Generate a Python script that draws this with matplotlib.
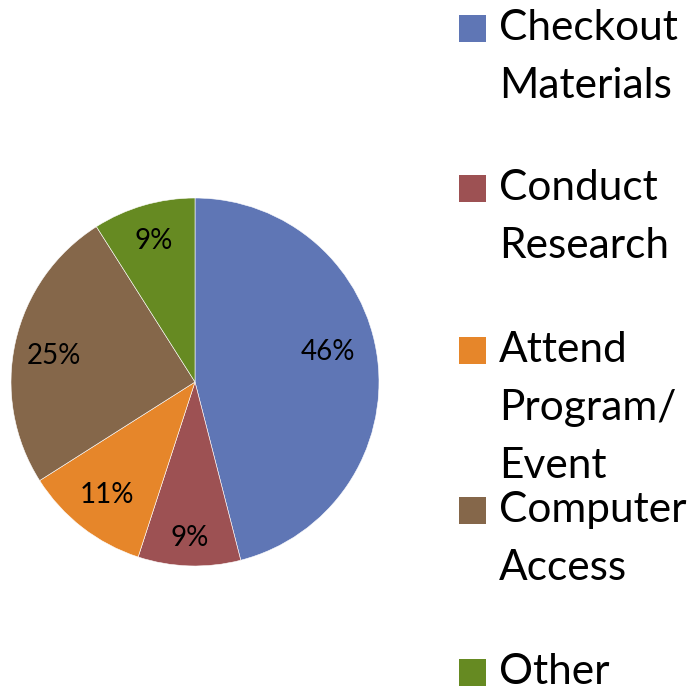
import numpy as np
import matplotlib
matplotlib.use('Agg')
import matplotlib.pyplot as plt
from matplotlib.patches import Rectangle

plt.rcParams['font.family'] = ['Lato', 'DejaVu Sans']

labels = ['Checkout\nMaterials', 'Conduct\nResearch', 'Attend\nProgram/\nEvent',
          'Computer\nAccess', 'Other']
shares = [46, 9, 11, 25, 9]
colors = ['#5F76B5', '#9D5153', '#E6862A', '#85674A', '#668A22']

W, H = 698, 691
fig = plt.figure(figsize=(W / 100, H / 100), dpi=100)

# pie: centre (195, 382) px from top-left, radius 184 px
cx, cy, R = 195, 382, 184
ax = fig.add_axes([(cx - R) / W, (H - cy - R) / H, 2 * R / W, 2 * R / H])
wedges, _ = ax.pie(shares, colors=colors, startangle=90, counterclock=False,
                   radius=1, wedgeprops=dict(edgecolor='white', linewidth=0.4))
ax.set_xlim(-1, 1)
ax.set_ylim(-1, 1)
ax.set_aspect('equal')
ax.axis('off')

label_r = [0.74, 0.85, 0.78, 0.78, 0.80]
label_shift = [5.5, 0, 0, 2, 0]
for w, v, r, s in zip(wedges, shares, label_r, label_shift):
    a = np.deg2rad((w.theta1 + w.theta2) / 2 + s)
    ax.text(r * np.cos(a), r * np.sin(a), f'{v}%', ha='center', va='center',
            fontsize=20, color='black')

# legend drawn by hand
entry_y = [28, 188, 350, 510, 672]
line_h = 58
for lab, col, y in zip(labels, colors, entry_y):
    fig.patches.append(Rectangle((459 / W, 1 - (y + 13.5) / H), 27 / W, 27 / H,
                                 transform=fig.transFigure, facecolor=col,
                                 edgecolor='none'))
    for i, line in enumerate(lab.split('\n')):
        fig.text(499 / W, 1 - (y + i * line_h) / H, line, ha='left', va='center',
                 fontsize=30.5, color='black')

fig.savefig('out.png', dpi=100)
